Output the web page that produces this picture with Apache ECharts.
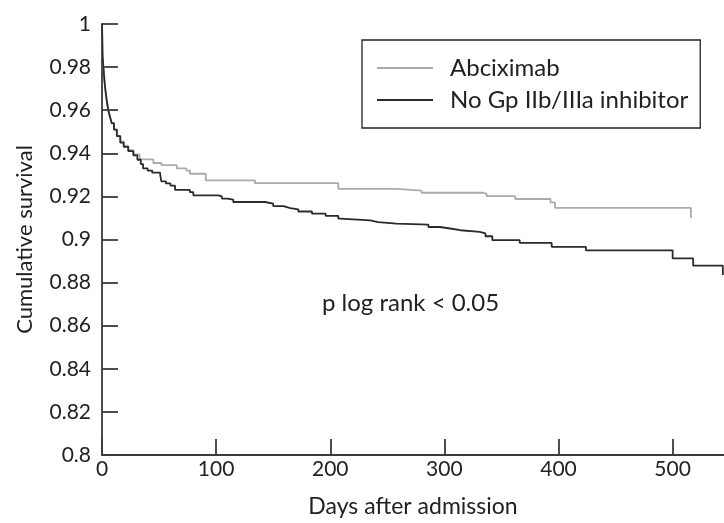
<!DOCTYPE html>
<html>
<head>
<meta charset="utf-8">
<script src="https://cdn.jsdelivr.net/npm/echarts@6/dist/echarts.min.js"></script>
<style>
  html, body { margin: 0; padding: 0; background: #fff; }
  #chart { width: 724px; height: 523px; }
</style>
</head>
<body>
<div id="chart"></div>
<script>
// Kaplan–Meier survival estimates: [days after admission, cumulative survival]
const abciximab = [
  [0, 1], [0.5, 0.985], [1.5, 0.978], [2.6, 0.971], [4, 0.965], [5.5, 0.96],
  [7, 0.957], [8.5, 0.954], [10.5, 0.951], [13, 0.948], [16, 0.9455],
  [19, 0.9435], [23, 0.9415], [27.5, 0.9395], [33, 0.9372], [45, 0.9355],
  [52, 0.9345], [65.5, 0.933], [74, 0.932], [77, 0.9305], [91, 0.9274],
  [134, 0.9262], [207, 0.9235], [258, 0.9227], [280, 0.9217], [334, 0.9212],
  [337, 0.9201], [362, 0.9188], [393, 0.9172], [397, 0.9147], [516, 0.91]
];
const noInhibitor = [
  [0, 1], [0.5, 0.985], [1.5, 0.978], [2.6, 0.971], [4, 0.965], [5.5, 0.96],
  [7, 0.957], [8.5, 0.954], [10.5, 0.951], [13, 0.948], [16, 0.945],
  [19, 0.943], [23, 0.941], [27.5, 0.939], [31, 0.937], [34, 0.935],
  [36, 0.933], [40, 0.932], [44, 0.931], [51, 0.93], [52, 0.927],
  [56, 0.926], [60, 0.925], [64, 0.923], [77, 0.922], [80, 0.9205],
  [102, 0.92], [105, 0.919], [110, 0.9185], [115, 0.9174], [143, 0.9166],
  [150, 0.9155], [159, 0.9146], [165, 0.914], [172, 0.913], [184, 0.912],
  [196, 0.911], [207, 0.9097], [209, 0.9089], [235, 0.9081], [242, 0.9074],
  [258, 0.9069], [286, 0.9058], [296, 0.9051], [305, 0.9043], [314, 0.9035],
  [331, 0.9028], [336, 0.9015], [342, 0.8997], [366, 0.8984], [394, 0.8966],
  [424, 0.895], [500, 0.8912], [518, 0.8879], [544, 0.8835]
];
const seriesNames = ['Abciximab', 'No Gp IIb/IIIa inhibitor'];
const annotation = 'p log rank < 0.05';

const FONT = 'Lato';
const INK = '#222';
const AXIS = '#3a3a3a';

const chart = echarts.init(document.getElementById('chart'), null, { renderer: 'canvas' });
chart.setOption({
  animation: false,
  backgroundColor: '#fff',
  textStyle: { fontFamily: FONT, color: INK },
  grid: { left: 102, right: 0, top: 24, bottom: 65, containLabel: false },
  legend: {
    data: seriesNames,
    orient: 'vertical',
    left: 362,
    top: 40,
    padding: [15, 12, 15, 15],
    itemGap: 6,
    itemWidth: 56,
    itemHeight: 2,
    icon: 'rect',
    borderColor: '#222',
    borderWidth: 1.3,
    backgroundColor: '#fff',
    textStyle: { fontFamily: FONT, fontSize: 24, color: INK, lineHeight: 26, padding: [0, 0, 0, 12] }
  },
  xAxis: {
    type: 'value',
    min: 0,
    max: 545,
    interval: 100,
    name: 'Days after admission',
    nameLocation: 'middle',
    nameGap: 40,
    nameTextStyle: { fontFamily: FONT, fontSize: 23, color: INK },
    axisLine: { lineStyle: { color: AXIS, width: 1.8 } },
    axisTick: { inside: true, length: 16, lineStyle: { color: AXIS, width: 1.8 } },
    axisLabel: { fontFamily: FONT, fontSize: 21, color: INK, margin: 4, showMaxLabel: false },
    splitLine: { show: false }
  },
  yAxis: {
    type: 'value',
    min: 0.8,
    max: 1,
    interval: 0.02,
    name: 'Cumulative survival',
    nameLocation: 'middle',
    nameGap: 66,
    nameTextStyle: { fontFamily: FONT, fontSize: 22, color: INK },
    axisLine: { show: true, lineStyle: { color: AXIS, width: 1.8 } },
    axisTick: { show: true, inside: true, length: 16, lineStyle: { color: AXIS, width: 1.8 } },
    axisLabel: { fontFamily: FONT, fontSize: 21, color: INK, margin: 11 },
    splitLine: { show: false }
  },
  series: [
    {
      name: seriesNames[0],
      type: 'line',
      step: 'end',
      data: abciximab,
      showSymbol: false,
      color: '#ababab',
      lineStyle: { color: '#ababab', width: 1.8 },
      z: 2
    },
    {
      name: seriesNames[1],
      type: 'line',
      step: 'end',
      data: noInhibitor,
      showSymbol: false,
      color: '#2a2a2a',
      lineStyle: { color: '#2a2a2a', width: 1.8 },
      z: 3
    }
  ],
  graphic: [
    {
      type: 'text',
      left: 322,
      top: 291,
      style: { text: annotation, fontFamily: FONT, fontSize: 24, fill: INK }
    }
  ]
});
</script>
</body>
</html>
